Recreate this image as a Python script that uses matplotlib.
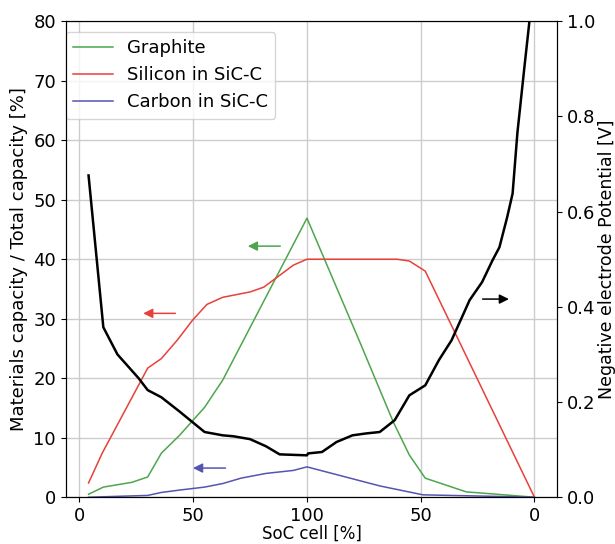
import numpy as np
import matplotlib.pyplot as plt

#=========================================DATA=========================================
# x runs 0..100 (charge) then 100..200 (discharge, labelled 100 -> 0)
graphite_x = [4, 10.5, 23, 30, 36, 44, 55, 63, 100, 123, 138, 145, 152, 170, 200]
graphite_y = [0.5, 1.7, 2.5, 3.4, 7.4, 10.4, 15.1, 19.7, 46.9, 26.3, 12.6, 7.1, 3.2, 0.9, 0.0]

silicon_x = [4, 10, 30, 36, 43, 49.6, 56, 63, 75, 81, 87, 94, 100, 139.5, 145, 152, 200]
silicon_y = [2.4, 7.4, 21.7, 23.3, 26.4, 29.7, 32.4, 33.6, 34.5, 35.3, 37.0, 39.0, 40.0, 40.0, 39.7, 38.0, 0.0]

carbon_x = [4, 30, 36, 44, 55, 63, 71, 82, 94, 100, 111, 132, 151, 200]
carbon_y = [0.0, 0.3, 0.8, 1.2, 1.7, 2.3, 3.2, 4.0, 4.5, 5.1, 4.0, 1.9, 0.4, 0.0]

pot_x = [4, 10.5, 16.7, 26, 30, 36, 44, 55, 63, 67.7, 75, 82, 88, 100, 100.5, 106.6, 113, 120, 126,
         132, 138.6, 145, 152, 158, 163.6, 171.5, 177, 181.6, 184.6, 188, 190.4, 192.5, 195.6, 197.8]
pot_v = [0.676, 0.357, 0.30, 0.25, 0.225, 0.21, 0.18, 0.137, 0.13, 0.128, 0.122, 0.107, 0.09, 0.088,
         0.092, 0.095, 0.116, 0.13, 0.134, 0.137, 0.162, 0.214, 0.235, 0.288, 0.33, 0.414, 0.452,
         0.498, 0.525, 0.588, 0.638, 0.765, 0.904, 1.0]

xticks = [0, 50, 100, 150, 200]
xticklabels = ['0', '50', '100', '50', '0']

#=========================================PLOT=========================================
plt.rcParams['font.size'] = 13
fig, ax = plt.subplots(figsize=(6.15, 5.44), dpi=100)
ax2 = ax.twinx()

ax.plot(graphite_x, graphite_y, color='#4da64d', lw=1.1, label='Graphite')
ax.plot(silicon_x, silicon_y, color='#e8403a', lw=1.1, label='Silicon in SiC-C')
ax.plot(carbon_x, carbon_y, color='#5555b0', lw=1.1, label='Carbon in SiC-C')
ax2.plot(pot_x, pot_v, color='black', lw=1.8)

# direction arrows
arr = dict(arrowstyle='-|>', mutation_scale=14, lw=1.1)
ax.annotate('', xy=(72.8, 42.2), xytext=(89.5, 42.2), arrowprops=dict(arr, color='#4da64d'))
ax.annotate('', xy=(26.8, 30.9), xytext=(43.4, 30.9), arrowprops=dict(arr, color='#e8403a'))
ax.annotate('', xy=(48.7, 4.9), xytext=(65.4, 4.9), arrowprops=dict(arr, color='#5555b0'))
ax.annotate('', xy=(190, 33.3), xytext=(176, 33.3), arrowprops=dict(arr, color='black'))

ax.set_xlim(-6, 210)
ax.set_ylim(0, 80)
ax2.set_ylim(0, 1.0)
ax.set_xticks(xticks)
ax.set_xticklabels(xticklabels)
ax.grid(True, color='#cccccc', lw=1)
ax.set_xlabel('SoC cell [%]', fontsize=12, labelpad=0)
ax.set_ylabel('Materials capacity / Total capacity [%]')
ax2.set_ylabel('Negative electrode Potential [V]', fontsize=12.5, labelpad=2)
ax.legend(loc='upper left', bbox_to_anchor=(0.0, 0.977), borderaxespad=0,
          fontsize=13, handlelength=2.2)

plt.subplots_adjust(left=0.107, right=0.906, top=0.961, bottom=0.086)
plt.savefig('out.png')
